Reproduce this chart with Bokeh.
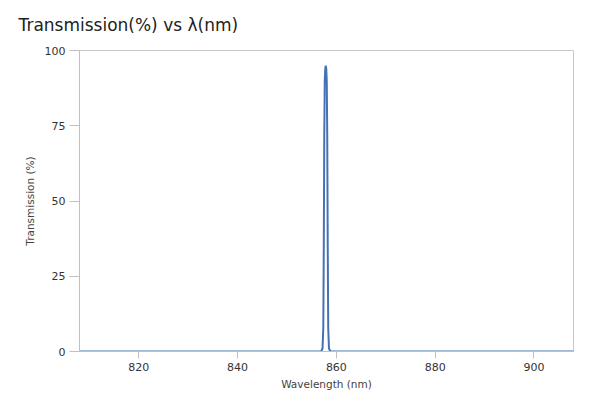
from bokeh.plotting import figure
from bokeh.embed import file_html
from bokeh.resources import INLINE
from bokeh.models import FixedTicker, Range1d

wavelength = [808.0, 840.0, 856.9, 857.2, 857.35, 857.45, 857.55, 857.65, 857.75, 857.85,
              857.95, 858.05, 858.15, 858.25, 858.35, 858.5, 858.8, 880.0, 908.0]
transmission = [0.0, 0.0, 0.0, 1.0, 8.0, 35.0, 72.0, 90.0, 94.0, 95.0,
                94.0, 90.0, 72.0, 35.0, 8.0, 1.0, 0.0, 0.0, 0.0]
x_ticks = [820, 840, 860, 880, 900]
y_ticks = [0, 25, 50, 75, 100]

FONT = "DejaVu Sans"

p = figure(width=592, height=392, output_backend="svg", toolbar_location=None,
           x_range=Range1d(808, 908), y_range=Range1d(0, 100),
           title="Transmission(%) vs λ(nm)",
           min_border_left=79, min_border_right=19, min_border_top=49, min_border_bottom=41)

p.title.text_font = FONT
p.title.text_font_size = "17px"
p.title.text_font_style = "normal"
p.title.text_color = "#222222"
p.title.offset = -61
p.title.standoff = 28
p.title.vertical_align = "top"
p.title.text_line_height = 0.8

p.line(wavelength, transmission, line_color="#4572b4", line_width=2)

p.xgrid.visible = False
p.ygrid.visible = False
p.outline_line_color = "#c8c8c8"
p.outline_line_width = 1

for ax in (p.xaxis, p.yaxis):
    ax.axis_line_color = "#c0c0c0"
    ax.major_tick_line_color = "#c0c0c0"
    ax.minor_tick_line_color = None
    ax.major_tick_in = 0
    ax.major_label_text_font = FONT
    ax.major_label_text_font_size = "11px"
    ax.major_label_text_color = "#333333"
    ax.axis_label_text_font = FONT
    ax.axis_label_text_font_size = "10.5px"
    ax.axis_label_text_font_style = "normal"
    ax.axis_label_text_color = "#444444"

p.xaxis.ticker = FixedTicker(ticks=x_ticks)
p.yaxis.ticker = FixedTicker(ticks=y_ticks)
p.xaxis.axis_label = "Wavelength (nm)"
p.yaxis.axis_label = "Transmission (%)"
p.xaxis.major_tick_out = 7
p.yaxis.major_tick_out = 10
p.xaxis.major_label_standoff = 4
p.yaxis.major_label_standoff = 4
p.xaxis.axis_label_standoff = 4
p.yaxis.axis_label_standoff = 6

open("out.html", "w").write(file_html(p, INLINE))
